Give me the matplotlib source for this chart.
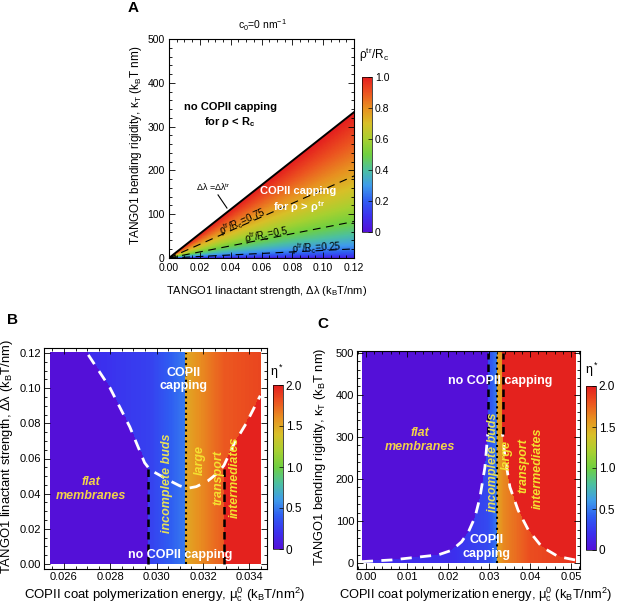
import numpy as np
import matplotlib.pyplot as plt
from matplotlib.colors import LinearSegmentedColormap
from matplotlib.ticker import MultipleLocator

plt.rcParams["font.family"] = "Liberation Sans"
plt.rcParams["mathtext.fontset"] = "custom"
plt.rcParams["mathtext.rm"] = "Liberation Sans"
plt.rcParams["mathtext.it"] = "Liberation Sans:italic"
plt.rcParams["mathtext.bf"] = "Liberation Sans:bold"
plt.rcParams["font.size"] = 8

# colour scale (rainbow, as in the figure legends)
rainbow_stops = [0.0, 0.1, 0.2, 0.3, 0.4, 0.5, 0.6, 0.7, 0.8, 0.9, 1.0]
rainbow_colors = ["#5410d8", "#3c30ee", "#2f5cf2", "#3f9cea", "#4cc0a0", "#70d040",
                  "#a8d030", "#d8c028", "#e89020", "#ec5420", "#e41e1e"]
cmap = LinearSegmentedColormap.from_list("rb", list(zip(rainbow_stops, rainbow_colors)))
cmap.set_bad("white")

# ---- panel A data
a_dl_max = 0.12
a_kappa_tr_at_max = 333          # kappa on the dl = dl_tr line at dl = 0.12
a_levels = [0.25, 0.5, 0.75]
a_cbar_ticks = [0, 0.2, 0.4, 0.6, 0.8, 1.0]
a_cbar_labels = ["0", "0.2", "0.4", "0.6", "0.8", "1.0"]

# ---- panel B data (mu_c0 vs delta lambda)
b_mu_range = [0.0254, 0.0345]
b_dl_range = [0.0, 0.12]
b_dot = 0.03125
b_dash_left = 0.02964
b_dash_right = 0.0329
b_dash_top = [0.054, 0.056]
b_curve_mu = [0.02705, 0.02798, 0.02884, 0.02948, 0.02972, 0.03056, 0.03099, 0.03135,
              0.03171, 0.03220, 0.03257, 0.0329, 0.03336, 0.03386, 0.03447]
b_curve_dl = [0.1189, 0.1003, 0.078, 0.0576, 0.0535, 0.0474, 0.0445, 0.0431,
              0.0440, 0.0472, 0.0511, 0.0560, 0.0689, 0.0799, 0.0957]
b_left_dl = [0.0, 0.054, 0.078, 0.1003, 0.12]
b_left_mu = [0.02964, 0.02964, 0.02884, 0.02798, 0.02700]
b_right_dl = [0.0, 0.056, 0.0689, 0.0799, 0.0957, 0.12]
b_right_mu = [0.0329, 0.0329, 0.03336, 0.03386, 0.03447, 0.0355]
b_blue_mu = [0.0270, 0.0297, 0.03125]
b_blue_eta = [0.18, 0.28, 0.5]
b_orange_mu = [0.03125, 0.0329, 0.0345]
b_orange_eta = [1.5, 1.78, 1.85]

# ---- panel C data (mu_c0 vs kappa_T)
c_mu_range = [-0.001, 0.0512]
c_kappa_range = [0, 500]
c_dot = 0.0319
c_dash_left = 0.0297
c_dash_right = 0.0333
c_dash_bottom = 307
c_left_kappa = [0, 4, 8, 14, 20, 31, 51, 75, 110, 157, 228, 307, 500]
c_left_mu = [-0.001, -0.001, 0.0063, 0.012, 0.0176, 0.0209, 0.0233, 0.025, 0.0266,
             0.0278, 0.029, 0.0297, 0.0297]
c_right_kappa = [0, 8, 16, 39, 79, 126, 181, 252, 307, 500]
c_right_mu = [0.0515, 0.051, 0.0469, 0.0429, 0.0396, 0.0371, 0.0351, 0.0339, 0.0333, 0.0333]
c_blue_mu = [0.02, 0.0297, 0.0319]
c_blue_eta = [0.18, 0.32, 0.5]
c_orange_mu = [0.0319, 0.0335, 0.04, 0.05]
c_orange_eta = [1.5, 1.62, 1.82, 1.9]

eta_red = 1.98
eta_ticks = [0, 0.5, 1.0, 1.5, 2.0]
eta_labels = ["0", "0.5", "1.0", "1.5", "2.0"]

W, H = 617, 609
fig = plt.figure(figsize=(W / 100, H / 100), dpi=100)


def box(l, t, r, b):
    return [l / W, 1 - b / H, (r - l) / W, (b - t) / H]


def px(x, y):
    return x / W, 1 - y / H


def style(ax, size, pad=2):
    ax.tick_params(which="both", direction="in", top=True, right=True, labelsize=size,
                   width=0.6, pad=pad)
    ax.tick_params(which="major", length=4)
    ax.tick_params(which="minor", length=2)
    for s in ax.spines.values():
        s.set_linewidth(0.8)


def style_cbar(cb, size):
    cb.outline.set_linewidth(0.5)
    cb.ax.tick_params(labelsize=size, length=3, width=0.5, direction="in", pad=2)


# ================= panel A
axA = fig.add_axes(box(169, 39, 354, 258))
dlg = np.linspace(0, a_dl_max, 600)
kg = np.linspace(0, 500, 600)
DL, KG = np.meshgrid(dlg, kg)
slope = a_kappa_tr_at_max / a_dl_max
with np.errstate(divide="ignore", invalid="ignore"):
    ratio = np.sqrt(KG / (slope * DL))
ratio = np.ma.masked_where(~(ratio <= 1), ratio)
imA = axA.imshow(ratio, extent=[0, a_dl_max, 0, 500], origin="lower", aspect="auto",
                 cmap=cmap, vmin=0, vmax=1, interpolation="nearest")
axA.plot(dlg, slope * dlg, color="black", lw=1.4)
for lev in a_levels:
    axA.plot(dlg, slope * dlg * lev ** 2, color="black", lw=0.8, dashes=(7, 5))
axA.set_xlim(0, 0.12)
axA.set_ylim(0, 500)
axA.xaxis.set_major_locator(MultipleLocator(0.02))
axA.xaxis.set_minor_locator(MultipleLocator(0.005))
axA.yaxis.set_major_locator(MultipleLocator(100))
axA.yaxis.set_minor_locator(MultipleLocator(20))
axA.xaxis.set_major_formatter(lambda v, p: f"{v:.2f}")
style(axA, 7.5)
axA.tick_params(axis="x", pad=3.5)
axA.tick_params(axis="y", pad=3)

axA.text(0.0396, 325, "no COPII capping\nfor ρ < R$_\\mathbf{c}$", ha="center", va="center",
         fontsize=8, fontweight="bold", linespacing=1.3)
axA.text(0.084, 131, "COPII capping\nfor ρ > ρ$^\\mathbf{tr}$", ha="center", va="center",
         fontsize=8, fontweight="bold", color="white", linespacing=1.3)
axA.text(0.0285, 162, "Δλ =Δλ$^\\mathrm{tr}$", ha="center", va="center", fontsize=6.5)
axA.plot([0.0318, 0.0376], [144, 114], color="black", lw=0.8)
axA.text(0.048, 84, "ρ$^\\mathrm{tr}$/R$_\\mathrm{c}$=0.75", ha="center", va="center",
         fontsize=7, rotation=24)
axA.text(0.0634, 52, "ρ$^\\mathrm{tr}$/R$_\\mathrm{c}$=0.5", ha="center", va="center",
         fontsize=7, rotation=11)
axA.text(0.0954, 23, "ρ$^\\mathrm{tr}$/R$_\\mathrm{c}$=0.25", ha="center", va="center",
         fontsize=7, rotation=3)

caxA = fig.add_axes(box(362, 77, 372, 232))
cbA = fig.colorbar(imA, cax=caxA, ticks=a_cbar_ticks)
cbA.ax.set_yticklabels(a_cbar_labels)
style_cbar(cbA, 7.5)
fig.text(*px(374, 55), "ρ$^\\mathrm{tr}$/R$_\\mathrm{c}$", ha="center", va="center", fontsize=8.5)

fig.text(*px(133, 8), "A", ha="center", va="center", fontsize=11, fontweight="bold")
fig.text(*px(262, 25), "c$_0$=0 nm$^{-1}$", ha="center", va="center", fontsize=7.5)
fig.text(*px(136, 145), "TANGO1 bending rigidity, κ$_\\mathrm{T}$ (k$_\\mathrm{B}$T nm)",
         ha="center", va="center", rotation=90, fontsize=8.5)
fig.text(*px(267, 291), "TANGO1 linactant strength, Δλ (k$_\\mathrm{B}$T/nm)",
         ha="center", va="center", fontsize=8)

# ================= panel B
axB = fig.add_axes(box(44, 348, 267, 569))
mu = np.linspace(b_mu_range[0], b_mu_range[1], 500)
dl = np.linspace(b_dl_range[0], b_dl_range[1], 500)
M, D = np.meshgrid(mu, dl)
xl = np.interp(D, b_left_dl, b_left_mu)
xr = np.interp(D, b_right_dl, b_right_mu)
etaB = np.where(M < xl, 0.0,
                np.where(M < b_dot, np.interp(M, b_blue_mu, b_blue_eta),
                         np.where(M < xr, np.interp(M, b_orange_mu, b_orange_eta), eta_red)))
imB = axB.imshow(etaB, extent=b_mu_range + b_dl_range, origin="lower", aspect="auto",
                 cmap=cmap, vmin=0, vmax=2, interpolation="nearest")
axB.plot(b_curve_mu, b_curve_dl, color="white", lw=2, dashes=(4, 3))
axB.plot([b_dash_left, b_dash_left], [0, b_dash_top[0]], color="black", lw=1.8, dashes=(3, 2))
axB.plot([b_dash_right, b_dash_right], [0, b_dash_top[1]], color="black", lw=1.8, dashes=(3, 2))
axB.plot([b_dot, b_dot], [0, 0.12], color="black", lw=1.5, ls=":")
axB.set_xlim(0.02514, 0.03476)
axB.set_ylim(-0.0028, 0.1228)
axB.xaxis.set_major_locator(MultipleLocator(0.002))
axB.xaxis.set_minor_locator(MultipleLocator(0.0005))
axB.yaxis.set_major_locator(MultipleLocator(0.02))
axB.yaxis.set_minor_locator(MultipleLocator(0.005))
axB.xaxis.set_major_formatter(lambda v, p: f"{v:.3f}")
axB.yaxis.set_major_formatter(lambda v, p: f"{v:.2f}")
style(axB, 8)

yellow = "#f2d24a"
axB.text(0.03114, 0.1049, "COPII\ncapping", ha="center", va="center", color="white",
         fontsize=9, fontweight="bold", linespacing=1.2)
axB.text(0.03101, 0.0051, "no COPII capping", ha="center", va="center", color="white",
         fontsize=9, fontweight="bold")
axB.text(0.02716, 0.0427, "flat\nmembranes", ha="center", va="center", color=yellow,
         fontsize=9, fontweight="bold", style="italic", linespacing=1.2)
axB.text(0.03043, 0.0461, "incomplete buds", ha="center", va="center", color="#e6e05a",
         fontsize=9, fontweight="bold", style="italic", rotation=90)
axB.text(0.03187, 0.0591, "large", ha="center", va="center", color="#f4e030",
         fontsize=9, fontweight="bold", style="italic", rotation=90)
axB.text(0.03265, 0.0489, "transport", ha="center", va="center", color="#f4e030",
         fontsize=9, fontweight="bold", style="italic", rotation=90)
axB.text(0.03338, 0.0495, "intermediates", ha="center", va="center", color="#f4e030",
         fontsize=9, fontweight="bold", style="italic", rotation=90)

caxB = fig.add_axes(box(273, 385, 283, 549))
cbB = fig.colorbar(imB, cax=caxB, ticks=eta_ticks)
cbB.ax.set_yticklabels(eta_labels)
style_cbar(cbB, 8.5)
fig.text(*px(277, 372), "η$^*$", ha="center", va="center", fontsize=9)

fig.text(*px(13, 320), "B", ha="center", va="center", fontsize=11, fontweight="bold")
fig.text(*px(7, 457), "TANGO1 linactant strength, Δλ (k$_\\mathrm{B}$T/nm)",
         ha="center", va="center", rotation=90, fontsize=9.4)
fig.text(*px(165, 595), "COPII coat polymerization energy, μ$_\\mathrm{c}^\\mathrm{0}$ (k$_\\mathrm{B}$T/nm$^2$)",
         ha="center", va="center", fontsize=9.5)

# ================= panel C
axC = fig.add_axes(box(357, 351, 580, 569))
mu = np.linspace(c_mu_range[0], c_mu_range[1], 500)
kap = np.linspace(c_kappa_range[0], c_kappa_range[1], 500)
M, K = np.meshgrid(mu, kap)
xl = np.interp(K, c_left_kappa, c_left_mu)
xr = np.interp(K, c_right_kappa, c_right_mu)
etaC = np.where(M < xl, 0.0,
                np.where(M < c_dot, np.interp(M, c_blue_mu, c_blue_eta),
                         np.where(M < xr, np.interp(M, c_orange_mu, c_orange_eta), eta_red)))
imC = axC.imshow(etaC, extent=c_mu_range + c_kappa_range, origin="lower", aspect="auto",
                 cmap=cmap, vmin=0, vmax=2, interpolation="nearest")
axC.plot(c_left_mu[1:-1], c_left_kappa[1:-1], color="white", lw=2, dashes=(4, 3))
axC.plot(c_right_mu[1:-1], c_right_kappa[1:-1], color="white", lw=2, dashes=(4, 3))
axC.plot([c_dash_left, c_dash_left], [c_dash_bottom, 500], color="black", lw=1.8, dashes=(3, 2))
axC.plot([c_dash_right, c_dash_right], [c_dash_bottom, 500], color="black", lw=1.8, dashes=(3, 2))
axC.plot([c_dot, c_dot], [0, 500], color="black", lw=1.5, ls=":")
axC.set_xlim(-0.0022, 0.0522)
axC.set_ylim(-13.5, 504)
axC.xaxis.set_major_locator(MultipleLocator(0.01))
axC.xaxis.set_minor_locator(MultipleLocator(0.002))
axC.yaxis.set_major_locator(MultipleLocator(100))
axC.yaxis.set_minor_locator(MultipleLocator(20))
axC.xaxis.set_major_formatter(lambda v, p: f"{v:.2f}")
style(axC, 8)

axC.text(0.0327, 433, "no COPII capping", ha="center", va="center", color="white",
         fontsize=9, fontweight="bold")
axC.text(0.02944, 38, "COPII\ncapping", ha="center", va="center", color="white",
         fontsize=9, fontweight="bold", linespacing=1.2)
axC.text(0.01317, 292, "flat\nmembranes", ha="center", va="center", color=yellow,
         fontsize=9, fontweight="bold", style="italic", linespacing=1.2)
axC.text(0.03105, 240, "incomplete buds", ha="center", va="center", color="#e6e05a",
         fontsize=9, fontweight="bold", style="italic", rotation=90)
axC.text(0.03432, 256, "large", ha="center", va="center", color="#f4e030",
         fontsize=9, fontweight="bold", style="italic", rotation=90)
axC.text(0.0383, 232, "transport", ha="center", va="center", color="#f4e030",
         fontsize=9, fontweight="bold", style="italic", rotation=90)
axC.text(0.04195, 225, "intermediates", ha="center", va="center", color="#f4e030",
         fontsize=9, fontweight="bold", style="italic", rotation=90)

caxC = fig.add_axes(box(586, 386, 596, 550))
cbC = fig.colorbar(imC, cax=caxC, ticks=eta_ticks)
cbC.ax.set_yticklabels(eta_labels)
style_cbar(cbC, 8.5)
fig.text(*px(592, 370), "η$^*$", ha="center", va="center", fontsize=9)

fig.text(*px(323, 324), "C", ha="center", va="center", fontsize=11, fontweight="bold")
fig.text(*px(320, 457), "TANGO1 bending rigidity, κ$_\\mathrm{T}$ (k$_\\mathrm{B}$T nm)",
         ha="center", va="center", rotation=90, fontsize=9.3)
fig.text(*px(476, 595), "COPII coat polymerization energy, μ$_\\mathrm{c}^\\mathrm{0}$ (k$_\\mathrm{B}$T/nm$^2$)",
         ha="center", va="center", fontsize=9.3)

fig.savefig("out.png", dpi=100)
